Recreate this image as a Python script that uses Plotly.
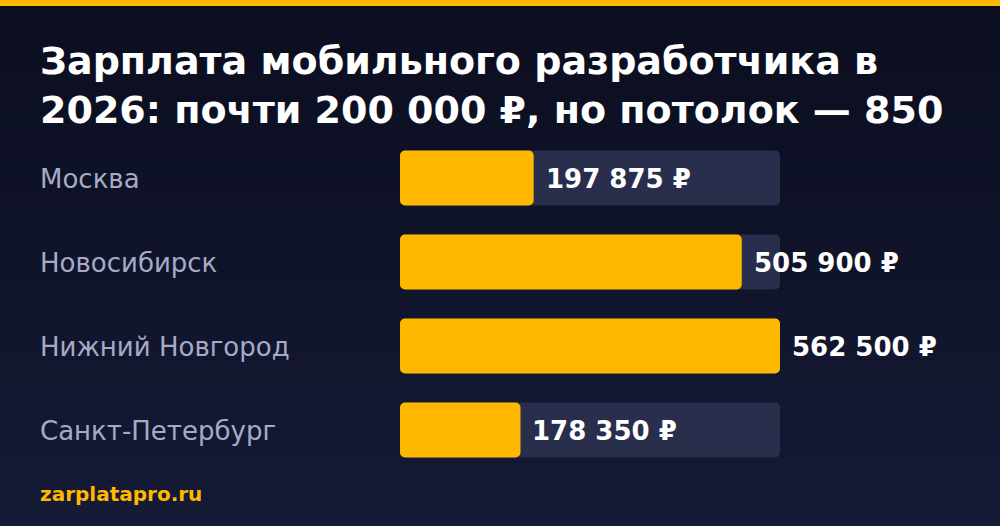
import plotly.graph_objects as go

cities = ["Москва", "Новосибирск", "Нижний Новгород", "Санкт-Петербург"]
salaries = [197875, 505900, 562500, 178350]
value_labels = ["197 875 ₽", "505 900 ₽", "562 500 ₽", "178 350 ₽"]
title_text = "Зарплата мобильного разработчика в<br>2026: почти 200 000 ₽, но потолок — 850"
source_text = "zarplatapro.ru"

W, H = 1000, 526
FONT = "DejaVu Sans"
YELLOW = "#FFB800"
TRACK = "#282E4C"

max_val = max(salaries)
track = [max_val] * len(cities)

fig = go.Figure()
for vals, color in ((track, TRACK), (salaries, YELLOW)):
    fig.add_trace(go.Bar(
        y=cities, x=vals, base=[0] * len(cities), orientation="h",
        marker=dict(color=color, line=dict(width=0)), width=0.655,
        hoverinfo="skip", showlegend=False,
    ))


def py(p):
    return 1 - p / H


# background gradient
shapes = []
top_c = (11, 14, 31)
bot_c = (21, 26, 54)
n = 60
for i in range(n):
    t = i / (n - 1)
    c = tuple(round(top_c[k] + (bot_c[k] - top_c[k]) * t) for k in range(3))
    shapes.append(dict(type="rect", xref="paper", yref="paper",
                       x0=0, x1=1, y0=1 - (i + 1) / n, y1=1 - i / n,
                       fillcolor="rgb(%d,%d,%d)" % c, line=dict(width=0), layer="below"))
shapes.append(dict(type="rect", xref="paper", yref="paper", x0=0, x1=1,
                   y0=py(6), y1=1, fillcolor=YELLOW, line=dict(width=0), layer="below"))

annotations = []
for c, v, lab in zip(cities, salaries, value_labels):
    annotations.append(dict(x=38 / W, xref="paper", y=c, yref="y",
                            text=c, showarrow=False, xanchor="left", yanchor="middle",
                            font=dict(family=FONT, size=26, color="#A7AAC6"), yshift=-1))
    annotations.append(dict(x=v, xref="x", y=c, yref="y", text="<b>%s</b>" % lab,
                            showarrow=False, xanchor="left", yanchor="middle", xshift=10,
                            font=dict(family=FONT, size=26, color="#FFFFFF"), yshift=-1))

annotations.append(dict(x=38 / W, xref="paper", y=py(85), yref="paper",
                        text="<b>%s</b>" % title_text, showarrow=False,
                        xanchor="left", yanchor="middle", align="left",
                        font=dict(family=FONT, size=38, color="#FFFFFF")))
annotations.append(dict(x=38 / W, xref="paper", y=py(494), yref="paper",
                        text="<b>%s</b>" % source_text, showarrow=False,
                        xanchor="left", yanchor="middle",
                        font=dict(family=FONT, size=20, color=YELLOW)))

fig.update_layout(
    width=W, height=H,
    margin=dict(l=0, r=0, t=0, b=0, pad=0),
    paper_bgcolor="#0B0E1F", plot_bgcolor="rgba(0,0,0,0)",
    barmode="overlay", barcornerradius=5,
    xaxis=dict(domain=[0.4, 0.78], range=[0, max_val], visible=False, fixedrange=True),
    yaxis=dict(domain=[py(472), py(136)], range=[3.5, -0.5], visible=False, fixedrange=True),
    shapes=shapes, annotations=annotations,
    font=dict(family=FONT),
)

fig.write_html("out.html", config={"displayModeBar": False},
               post_script="document.body.style.margin='0';document.body.style.overflow='hidden';")
